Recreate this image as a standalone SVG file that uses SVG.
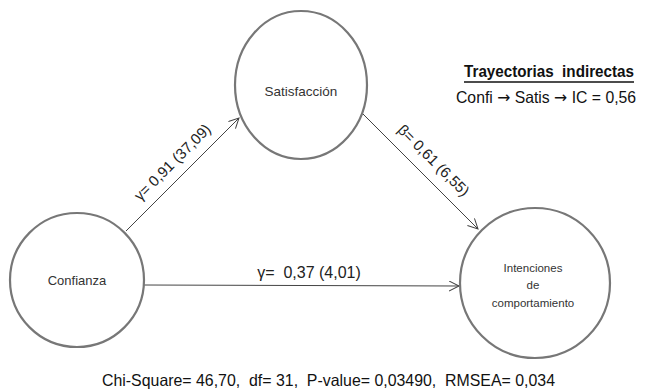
<svg xmlns="http://www.w3.org/2000/svg" width="648" height="390" viewBox="0 0 648 390">
<style>
.node{fill:#fff;stroke:#777;stroke-width:2.2}
.lbl{font-family:"Liberation Sans","Open Sans",sans-serif;font-size:13px;fill:#333;text-anchor:middle}
.edge{stroke:#444;stroke-width:1;fill:none;marker-end:url(#arr)}
.elbl{font-family:"Liberation Sans","Open Sans",sans-serif;font-size:15px;fill:#222;text-anchor:middle}
.info{font-family:"Liberation Sans","Open Sans",sans-serif;fill:#111}
.ar{font-family:"DejaVu Sans",sans-serif}
</style>
<defs>
<marker id="arr" markerWidth="12" markerHeight="12" refX="10" refY="5" orient="auto" markerUnits="userSpaceOnUse">
<path d="M0,0 L10,5 L0,10" fill="none" stroke="#444" stroke-width="1"/>
</marker>
</defs>
<rect width="648" height="390" fill="#fff"/>
<g id="connectors">
<line class="edge" x1="126" y1="231" x2="239" y2="118"/>
<line class="edge" x1="363" y1="114" x2="478" y2="229"/>
<line class="edge" x1="144" y1="285" x2="459" y2="286"/>
<text class="elbl" transform="translate(176,166) rotate(-45)">γ= 0,91 (37,09)</text>
<text class="elbl" transform="translate(430,164) rotate(45)">β= 0,61 (6,55)</text>
<text class="elbl" x="309" y="278" style="font-size:16px" xml:space="preserve">γ=  0,37 (4,01)</text>
</g>
<g id="satisfaccion">
<ellipse class="node" cx="301" cy="85" rx="66" ry="74"/>
<text class="lbl" x="301" y="96" style="font-size:13.5px">Satisfacción</text>
</g>
<g id="confianza">
<circle class="node" cx="77" cy="280" r="67"/>
<text class="lbl" x="77" y="285">Confianza</text>
</g>
<g id="intenciones">
<circle class="node" cx="535" cy="283" r="75"/>
<text class="lbl" x="533" y="272" style="font-size:11.5px">Intenciones</text>
<text class="lbl" x="533" y="289" style="font-size:11.5px">de</text>
<text class="lbl" x="533" y="307" style="font-size:11.5px">comportamiento</text>
</g>
<g id="indirectas">
<text class="info" transform="translate(464,77) scale(0.87,1)" font-size="17" font-weight="bold" textLength="195.4" lengthAdjust="spacingAndGlyphs" xml:space="preserve">Trayectorias  indirectas</text>
<line x1="464" y1="82" x2="634" y2="82" stroke="#111" stroke-width="1.4"/>
<text class="info" transform="translate(456,103) scale(0.92,1)" font-size="16.5" textLength="195.7" lengthAdjust="spacingAndGlyphs">Confi <tspan class="ar">→</tspan> Satis <tspan class="ar">→</tspan> IC = 0,56</text>
</g>
<g id="stats">
<text class="info" x="102" y="386" font-size="16.5" fill="#222" textLength="453" lengthAdjust="spacingAndGlyphs" xml:space="preserve">Chi-Square= 46,70,  df= 31,  P-value= 0,03490,  RMSEA= 0,034</text>
</g>
</svg>
